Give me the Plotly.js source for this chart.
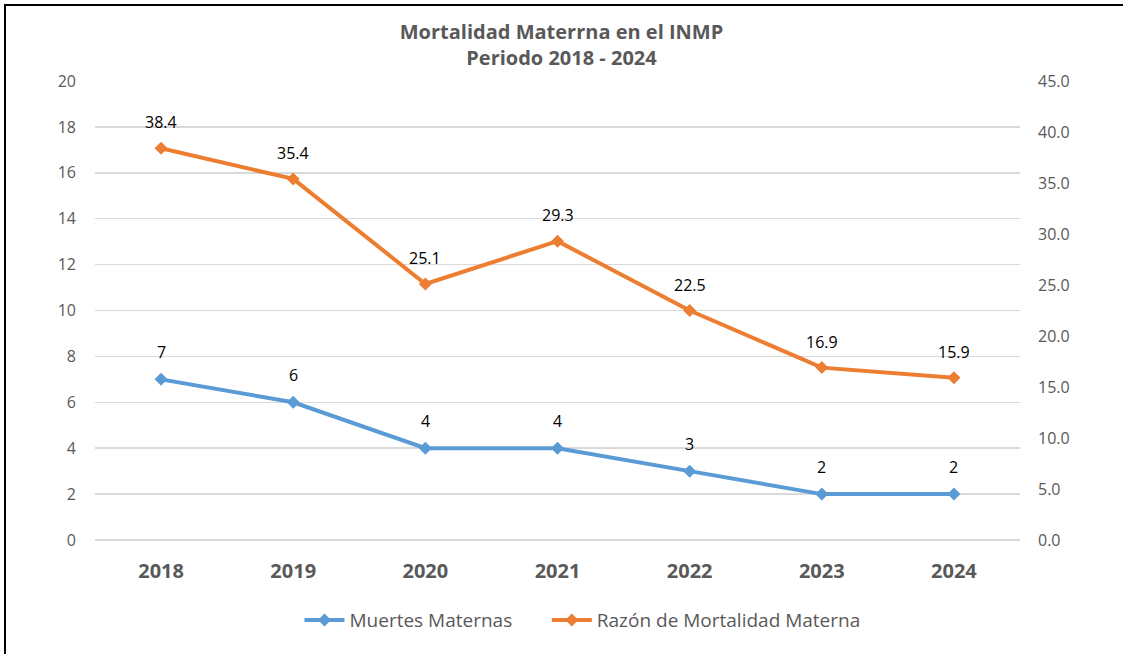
<!DOCTYPE html>
<html>
<head>
<meta charset="utf-8">
<script src="https://cdn.plot.ly/plotly-3.0.1.min.js"></script>
<style>
  html, body { margin: 0; padding: 0; background: #fff; }
  #wrap { position: relative; width: 1123px; height: 654px; }
  #chart { width: 1123px; height: 654px; }
  #frame { position: absolute; left: 4px; top: 4px; right: 0; bottom: 0;
           border-top: 2px solid #000; border-left: 2px solid #000; pointer-events: none; }
</style>
</head>
<body>
<div id="wrap">
  <div id="chart"></div>
  <div id="frame"></div>
</div>
<script>
const years = ['2018', '2019', '2020', '2021', '2022', '2023', '2024'];
const muertes = [7, 6, 4, 4, 3, 2, 2];
const razon = [38.4, 35.4, 25.1, 29.3, 22.5, 16.9, 15.9];
const leftTicks = [0, 2, 4, 6, 8, 10, 12, 14, 16, 18, 20];
const rightTicks = [0, 5, 10, 15, 20, 25, 30, 35, 40, 45];
const seriesNames = ['Muertes Maternas', 'Razón de Mortalidad Materna'];

const FONT = 'Open Sans, Noto Sans, sans-serif';
const GRAY = '#595959';
const PAD = '\u00a0\u00a0\u00a0\u00a0\u00a0\u00a0';

const traces = [
  {
    x: years, y: muertes, name: seriesNames[0] + PAD, type: 'scatter', mode: 'lines+markers',
    line: { color: '#5B9BD5', width: 4 },
    marker: { symbol: 'diamond', size: 10, color: '#5B9BD5' },
    yaxis: 'y', hoverinfo: 'skip'
  },
  {
    x: years, y: razon, name: seriesNames[1], type: 'scatter', mode: 'lines+markers',
    line: { color: '#ED7D31', width: 4 },
    marker: { symbol: 'diamond', size: 10, color: '#ED7D31' },
    yaxis: 'y2', hoverinfo: 'skip'
  }
];

const annotations = [];
years.forEach((yr, i) => {
  annotations.push({ x: i, y: muertes[i], xref: 'x', yref: 'y', text: String(muertes[i]),
    showarrow: false, yshift: 27, font: { family: FONT, size: 16, color: '#000' } });
  annotations.push({ x: i, y: razon[i], xref: 'x', yref: 'y2', text: razon[i].toFixed(1),
    showarrow: false, yshift: 26, font: { family: FONT, size: 16, color: '#000' } });
});

const layout = {
  width: 1123, height: 654,
  margin: { l: 95, r: 103, t: 81, b: 114 },
  paper_bgcolor: '#fff', plot_bgcolor: '#fff',
  font: { family: FONT, color: GRAY },
  title: {
    text: '<b>Mortalidad Materrna en el INMP<br>Periodo 2018 - 2024</b>',
    font: { family: FONT, size: 20, color: GRAY },
    x: 0.5, xanchor: 'center', y: 0.94, yanchor: 'top', yref: 'container'
  },
  showlegend: true,
  legend: {
    orientation: 'h', x: 0.527, xanchor: 'center', y: -0.133, yanchor: 'top',
    font: { family: FONT, size: 19, color: GRAY }, itemwidth: 40, tracegroupgap: 0
  },
  xaxis: {
    type: 'category', range: [-0.5, 6.5], showgrid: false, zeroline: false, showline: false,
    ticks: '', ticklabelstandoff: 17,
    tickfont: { family: FONT, size: 20, color: GRAY, weight: 'bold' }
  },
  yaxis: {
    range: [0, 20], tickvals: leftTicks, ticktext: leftTicks.map(String),
    showgrid: true, gridcolor: '#D9D9D9', gridwidth: 1.5,
    zeroline: true, zerolinecolor: '#D9D9D9', zerolinewidth: 1.5, showline: false,
    ticks: '', ticklabelstandoff: 18,
    tickfont: { family: FONT, size: 16, color: GRAY }
  },
  yaxis2: {
    overlaying: 'y', side: 'right', range: [0, 45], tickvals: rightTicks,
    ticktext: rightTicks.map(v => v.toFixed(1)),
    showgrid: false, zeroline: false, showline: false, ticks: '', ticklabelstandoff: 17,
    tickfont: { family: FONT, size: 16, color: GRAY }
  },
  annotations: annotations
};

Plotly.newPlot('chart', traces, layout, { staticPlot: true, displayModeBar: false });
</script>
</body>
</html>
